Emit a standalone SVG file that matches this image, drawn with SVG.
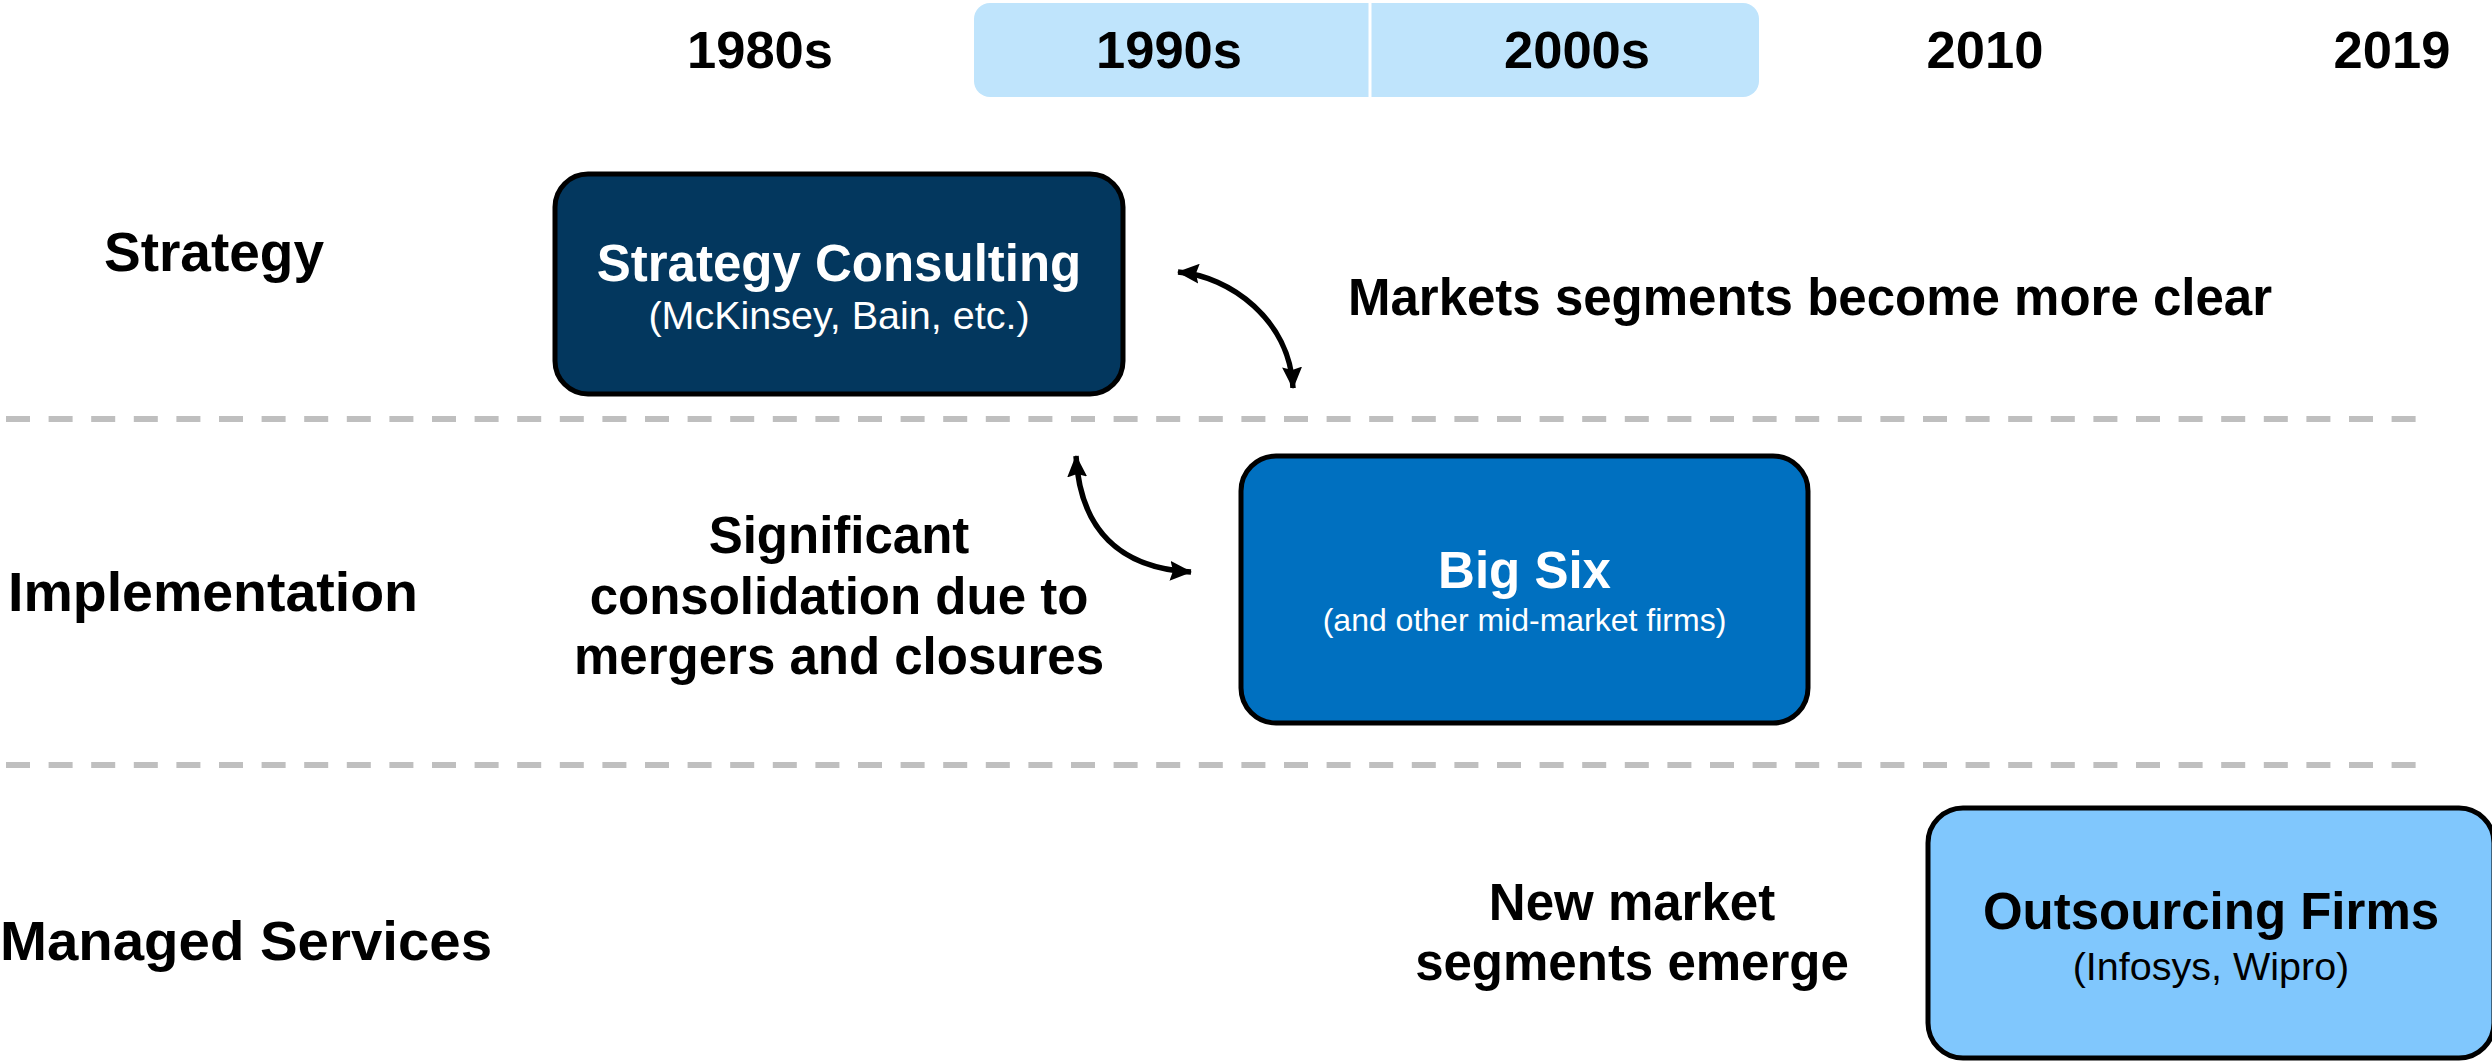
<svg xmlns="http://www.w3.org/2000/svg" width="2492" height="1061" viewBox="0 0 2492 1061">
<defs>
<style>
text{font-family:"Liberation Sans",Arial,sans-serif;}
.year{font-size:52.5px;font-weight:bold;fill:#000;text-anchor:middle;}
.row{font-size:55px;font-weight:bold;fill:#000;}
.note{font-size:51px;font-weight:bold;fill:#000;text-anchor:middle;}
.title{font-size:51px;font-weight:bold;text-anchor:middle;}
.sub{text-anchor:middle;}
.box{stroke:#000;stroke-width:5;}
.dash{stroke:#BFBFBF;stroke-width:6;stroke-dasharray:24 18.6;fill:none;}
.conn{fill:none;stroke:#000;stroke-width:5.5;}
</style>
<marker id="ah" viewBox="0 0 22 20" refX="21" refY="10" markerWidth="22" markerHeight="20" markerUnits="userSpaceOnUse" orient="auto-start-reverse">
<path d="M0,0 L22,10 L0,20 L3,10 Z" fill="#000"/>
</marker>
</defs>

<g id="timeline">
<rect x="974" y="3" width="785" height="94" rx="16" fill="#BFE4FC"/>
<line x1="1370" y1="3" x2="1370" y2="97" stroke="#fff" stroke-width="3"/>
<text class="year" x="760" y="68">1980s</text>
<text class="year" x="1169" y="68">1990s</text>
<text class="year" x="1577" y="68">2000s</text>
<text class="year" x="1985" y="68">2010</text>
<text class="year" x="2392" y="68">2019</text>
</g>

<g id="separators">
<line class="dash" x1="6" y1="419" x2="2416" y2="419"/>
<line class="dash" x1="6" y1="765" x2="2416" y2="765"/>
</g>

<g id="row-labels">
<text class="row" x="214" y="271" text-anchor="middle">Strategy</text>
<text class="row" x="8" y="611" font-size="56" textLength="410" lengthAdjust="spacingAndGlyphs">Implementation</text>
<text class="row" x="0" y="960" font-size="57" textLength="492" lengthAdjust="spacingAndGlyphs">Managed Services</text>
</g>

<g id="node-strategy">
<rect class="box" x="555" y="174" width="568" height="220" rx="33" fill="#03375E"/>
<text class="title" x="839" y="281" fill="#fff">Strategy Consulting</text>
<text class="sub" x="839" y="329" font-size="39.5" fill="#fff">(McKinsey, Bain, etc.)</text>
</g>

<g id="node-bigsix">
<rect class="box" x="1241" y="456" width="567" height="267" rx="35" fill="#0070C0"/>
<text class="title" x="1524.5" y="588" fill="#fff">Big Six</text>
<text class="sub" x="1524.5" y="631" font-size="32" fill="#fff">(and other mid-market firms)</text>
</g>

<g id="node-outsourcing">
<rect class="box" x="1928" y="808" width="566" height="250" rx="35" fill="#80C7FD"/>
<text class="title" x="2211" y="929" fill="#000">Outsourcing Firms</text>
<text class="sub" x="2211" y="980" font-size="39.5" fill="#000">(Infosys, Wipro)</text>
</g>

<g id="notes">
<text class="note" x="1810" y="315">Markets segments become more clear</text>
<text class="note" x="839" y="553">Significant</text>
<text class="note" x="839" y="614">consolidation due to</text>
<text class="note" x="839" y="674">mergers and closures</text>
<text class="note" x="1632" y="920">New market</text>
<text class="note" x="1632" y="980">segments emerge</text>
</g>

<g id="connectors">
<path class="conn" d="M1178,272 C1230,276 1290,320 1293,388" marker-start="url(#ah)" marker-end="url(#ah)"/>
<path class="conn" d="M1076,456 C1080,530 1120,568 1191,572" marker-start="url(#ah)" marker-end="url(#ah)"/>
</g>
</svg>
